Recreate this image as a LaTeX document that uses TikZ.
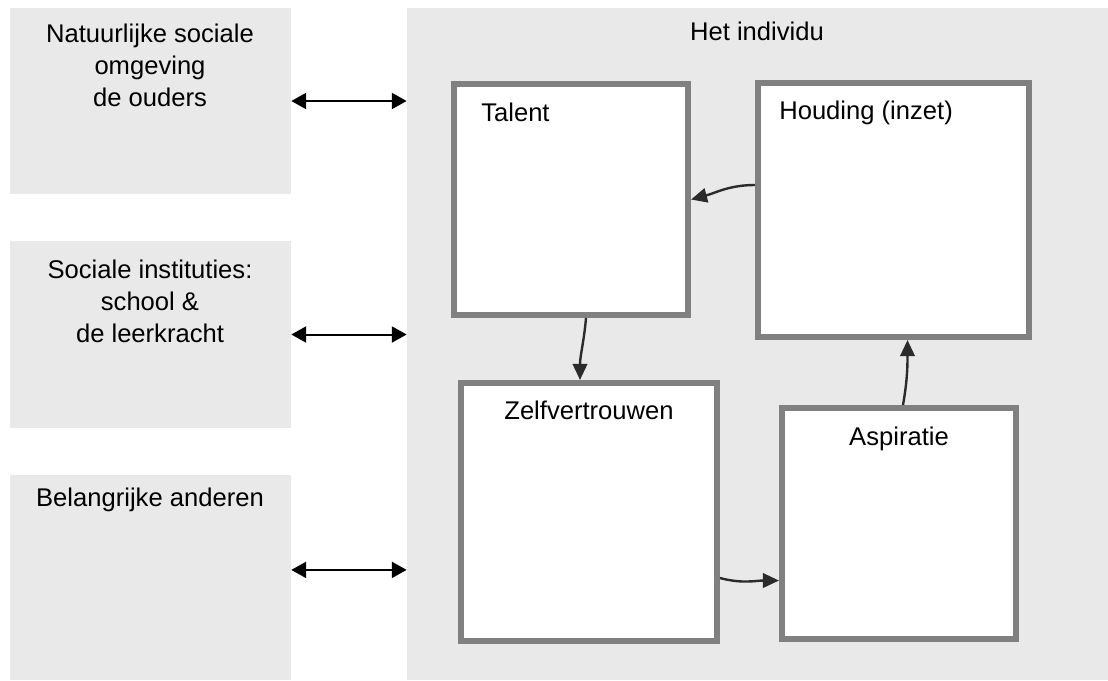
\documentclass[tikz,border=0pt]{standalone}
\usepackage{fontspec}
\setmainfont{Liberation Sans}
\usetikzlibrary{positioning,arrows.meta,calc}

\definecolor{achtergrond}{HTML}{E9E9E9}
\definecolor{rand}{HTML}{808080}
\definecolor{pijlkleur}{HTML}{2B2B2B}

\tikzset{
    vlak/.style={fill=achtergrond, draw=none, inner sep=0pt},
    kader/.style={draw=rand, fill=white, line width=0.15cm, inner sep=0pt},
    tekst/.style={font=\fontsize{18.2}{22.8}\selectfont, align=center, inner sep=0pt},
    wissel/.style={{Triangle[length=0.37cm,width=0.4cm]}-{Triangle[length=0.37cm,width=0.4cm]}, line width=0.05cm},
    pijl/.style={-{Triangle[length=0.4cm,width=0.36cm]}, line width=0.06cm, draw=pijlkleur}
}

\begin{document}
\begin{tikzpicture}[x=0.025cm, y=-0.025cm]
    \useasboundingbox (0,0) rectangle (1108,680);

    % Grijze vlakken links en het individu rechts
    \node[vlak, minimum width=7.025cm, minimum height=4.65cm] (natuur) at (150.5,101) {};
    \node[vlak, minimum width=7.025cm, minimum height=4.675cm] (instituut) at (150.5,334.5) {};
    \node[vlak, minimum width=7.025cm, minimum height=5.125cm] (anderen) at (150.5,577.5) {};
    \node[vlak, minimum width=17.525cm, minimum height=16.8cm] (individu) at (757.5,344) {};

    \node[tekst, anchor=north] (natuurtekst) at (150,24) {Natuurlijke sociale\\omgeving\\de ouders};
    \node[tekst, anchor=north] (instituuttekst) at (150,260) {Sociale instituties:\\school \&\\de leerkracht};
    \node[tekst, anchor=north] (anderentekst) at (150,488) {Belangrijke anderen};
    \node[tekst, anchor=north] (individutekst) at (757,22) {Het individu};

    % Witte kaders binnen het individu
    \node[kader, minimum width=5.85cm, minimum height=5.775cm] (talent) at (571,199.5) {};
    \node[kader, minimum width=6.775cm, minimum height=6.35cm] (houding) at (893.5,210) {};
    \node[kader, minimum width=6.4cm, minimum height=6.45cm] (zelf) at (589,512) {};
    \node[kader, minimum width=5.85cm, minimum height=5.775cm] (aspiratie) at (899,523.5) {};

    \node[tekst, anchor=north west] (talenttekst) at (481,103) {Talent};
    \node[tekst, anchor=north west] (houdingtekst) at (779,101) {Houding (inzet)};
    \node[tekst, anchor=north] (zelftekst) at (589,401) {Zelfvertrouwen};
    \node[tekst, anchor=north] (aspiratietekst) at (899,427) {Aspiratie};

    % Wisselwerking met de omgeving
    \coordinate (anderenpunt) at ([yshift=0.19cm]anderen.east);
    \draw[wissel] (natuur.east) -- (individu.west |- natuur.east);
    \draw[wissel] (instituut.east) -- (individu.west |- instituut.east);
    \draw[wissel] (anderenpunt) -- (individu.west |- anderenpunt);

    % De kringloop
    \draw[pijl] ([yshift=0.625cm]houding.west) to[out=180, in=15] (talent.east);
    \draw[pijl] ([xshift=0.375cm]talent.south) to[out=-95, in=90] ([xshift=-0.225cm]zelf.north);
    \draw[pijl] ([yshift=-1.65cm]zelf.east) to[out=-15, in=180] ([yshift=-1.425cm]aspiratie.west);
    \draw[pijl] ([xshift=0.1cm]aspiratie.north) to[out=80, in=-90] ([xshift=0.35cm]houding.south);
\end{tikzpicture}
\end{document}
